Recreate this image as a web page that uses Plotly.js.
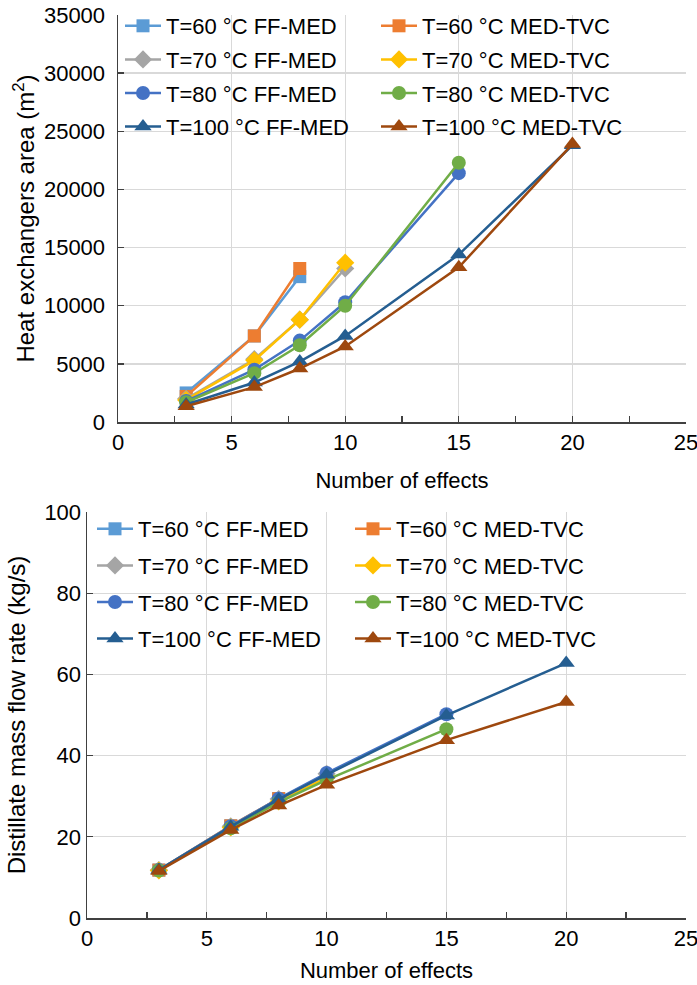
<!DOCTYPE html>
<html>
<head>
<meta charset="utf-8">
<script src="https://cdn.plot.ly/plotly-3.0.1.min.js"></script>
<style>html,body{margin:0;padding:0;background:#fff;}#chart{width:697px;height:985px;}</style>
</head>
<body>
<div id="chart"></div>
<script>
// Series names in drawing order
var seriesNames = ["T=60 °C FF-MED", "T=60 °C MED-TVC", "T=70 °C FF-MED", "T=70 °C MED-TVC",
                   "T=80 °C FF-MED", "T=80 °C MED-TVC", "T=100 °C FF-MED", "T=100 °C MED-TVC"];

// Number of effects for each temperature
var effects60 = [3, 6, 8];
var effects70 = [3, 6, 8, 10];
var effects80 = [3, 6, 8, 10, 15];
var effects100 = [3, 6, 8, 10, 15, 20];

// Heat exchangers area (m2)
var area60FF = [2500, 7400, 12500];
var area60TVC = [2200, 7400, 13200];
var area70FF = [2000, 5400, 8800, 13200];
var area70TVC = [1900, 5300, 8800, 13700];
var area80FF = [1800, 4500, 7000, 10300, 21400];
var area80TVC = [1700, 4200, 6600, 10000, 22300];
var area100FF = [1500, 3400, 5200, 7400, 14400, 23800];
var area100TVC = [1350, 3000, 4600, 6500, 13300, 23900];

// Distillate mass flow rate (kg/s)
var flow60FF = [11.8, 22.7, 29.4];
var flow60TVC = [11.8, 22.7, 29.4];
var flow70FF = [11.8, 22.6, 29.3, 35.5];
var flow70TVC = [11.7, 22.3, 28.7, 34.6];
var flow80FF = [11.8, 22.6, 29.4, 35.7, 50.2];
var flow80TVC = [11.7, 22.1, 28.5, 34.0, 46.5];
var flow100FF = [11.8, 22.5, 29.2, 35.3, 49.9, 62.8];
var flow100TVC = [11.6, 21.7, 27.7, 32.8, 43.8, 53.2];

var colors = ["#5B9BD5", "#ED7D31", "#A5A5A5", "#FFC000", "#4472C4", "#70AD47", "#255E91", "#9E480E"];
var symbols = ["square", "square", "diamond", "diamond", "circle", "circle", "triangle-up", "triangle-up"];
var msizes = [13, 13, 14, 14, 14, 14, 15, 15];

var xs = [effects60, effects60, effects70, effects70, effects80, effects80, effects100, effects100];
var areas = [area60FF, area60TVC, area70FF, area70TVC, area80FF, area80TVC, area100FF, area100TVC];
var flows = [flow60FF, flow60TVC, flow70FF, flow70TVC, flow80FF, flow80TVC, flow100FF, flow100TVC];

var traces = [];
for (var i = 0; i < 8; i++) {
  traces.push({
    x: xs[i], y: areas[i], xaxis: 'x', yaxis: 'y', type: 'scatter', mode: 'lines+markers',
    name: seriesNames[i], legend: (i % 2 === 0) ? 'legend' : 'legend2', legendgroup: 'a' + i,
    line: {color: colors[i], width: 2.5},
    marker: {symbol: symbols[i], size: msizes[i], color: colors[i]}
  });
}
for (var j = 0; j < 8; j++) {
  traces.push({
    x: xs[j], y: flows[j], xaxis: 'x2', yaxis: 'y2', type: 'scatter', mode: 'lines+markers',
    name: seriesNames[j], legend: (j % 2 === 0) ? 'legend3' : 'legend4', legendgroup: 'b' + j,
    line: {color: colors[j], width: 2.5},
    marker: {symbol: symbols[j], size: msizes[j], color: colors[j]}
  });
}

var F = 'Liberation Sans, Arial, sans-serif';
var tickFont = {family: F, size: 22, color: '#000'};
var legFont = {family: F, size: 22, color: '#000'};
var xTitleFont = {family: F, size: 22, color: '#000'};
var yTitleFont = {family: F, size: 24, color: '#000'};

function xax(domain, anchor, standoff) {
  return {
    domain: domain, anchor: anchor, range: [0, 25], dtick: 5, tick0: 0,
    showgrid: true, gridcolor: '#d9d9d9', gridwidth: 1.3,
    showline: true, linecolor: '#404040', linewidth: 1.5,
    ticks: 'inside', ticklen: 6, tickcolor: '#404040', tickwidth: 1.3,
    minor: {dtick: 2.5, ticks: 'inside', ticklen: 6, tickcolor: '#404040', tickwidth: 1.3, showgrid: false},
    tickfont: tickFont, zeroline: false, automargin: false, ticklabeloverflow: 'allow',
    title: {text: 'Number of effects', font: xTitleFont, standoff: standoff}
  };
}
function yax(domain, anchor, range, dtick, title, standoff, labelGap) {
  return {
    domain: domain, anchor: anchor, range: range, dtick: dtick, tick0: 0,
    showgrid: true, gridcolor: '#d9d9d9', gridwidth: 1.3,
    showline: true, linecolor: '#404040', linewidth: 1.5,
    ticks: 'inside', ticklen: 6, tickcolor: '#404040', tickwidth: 1.3,
    tickformat: 'd', exponentformat: 'none', ticklabelstandoff: labelGap,
    tickfont: tickFont, zeroline: false, automargin: false, ticklabeloverflow: 'allow',
    title: {text: title, font: yTitleFont, standoff: standoff}
  };
}

var W = 697, H = 985;
var layout = {
  width: W, height: H,
  margin: {l: 0, r: 0, t: 0, b: 0},
  paper_bgcolor: '#fff', plot_bgcolor: '#fff',
  showlegend: true,
  xaxis: xax([118 / W, 686 / W], 'y', 18),
  yaxis: yax([1 - 422 / H, 1 - 15 / H], 'x', [0, 35000], 5000, 'Heat exchangers area (m<sup>2</sup>)', 2, 7),
  xaxis2: xax([87 / W, 686 / W], 'y2', 12),
  yaxis2: yax([1 - 918 / H, 1 - 512 / H], 'x2', [0, 100], 20, 'Distillate mass flow rate (kg/s)', 12, 0),
  legend: {x: 120 / W, y: 1 - 5 / H, xanchor: 'left', yanchor: 'top', bgcolor: 'rgba(0,0,0,0)',
           font: legFont, tracegroupgap: 2, itemwidth: 36},
  legend2: {x: 376 / W, y: 1 - 5 / H, xanchor: 'left', yanchor: 'top', bgcolor: 'rgba(0,0,0,0)',
            font: legFont, tracegroupgap: 2, itemwidth: 36},
  legend3: {x: 92 / W, y: 1 - 508 / H, xanchor: 'left', yanchor: 'top', bgcolor: 'rgba(0,0,0,0)',
            font: legFont, tracegroupgap: 5, itemwidth: 36},
  legend4: {x: 350 / W, y: 1 - 508 / H, xanchor: 'left', yanchor: 'top', bgcolor: 'rgba(0,0,0,0)',
            font: legFont, tracegroupgap: 5, itemwidth: 36}
};

Plotly.newPlot('chart', traces, layout, {displayModeBar: false, staticPlot: true});
</script>
</body>
</html>
